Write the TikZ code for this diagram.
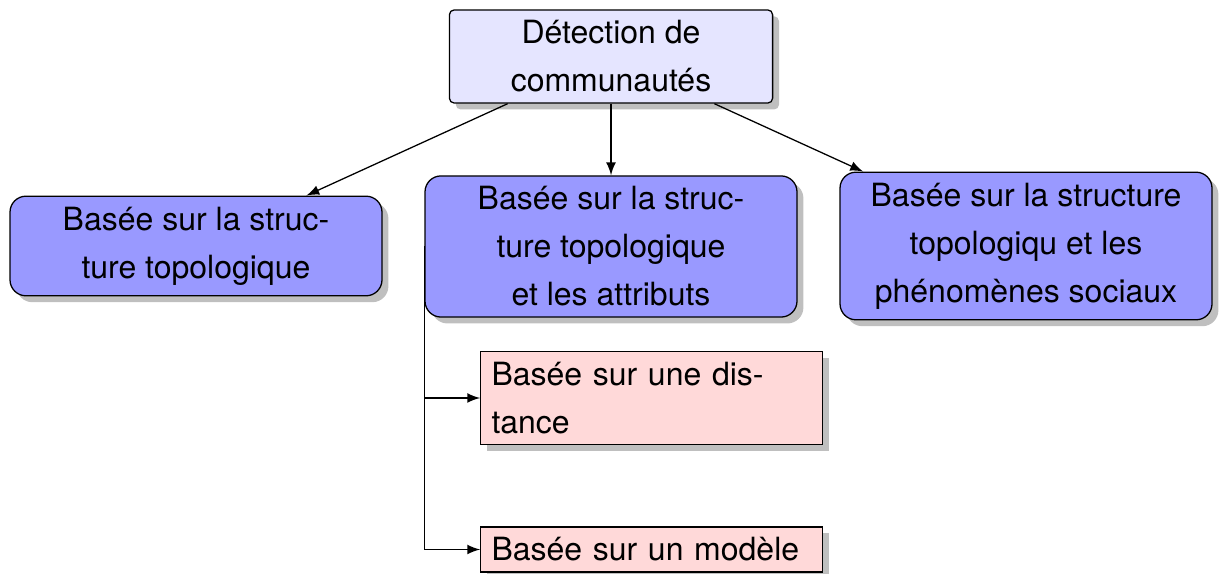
\documentclass[tikz,border=0pt]{standalone}
\usepackage{fontspec}
\setmainfont{TeX Gyre Heros}
\usetikzlibrary{shadows}

\begin{document}
\begin{tikzpicture}[x=0.3125pt,y=-0.3125pt,
    font=\fontsize{10}{15}\selectfont,
    racine/.style={draw,fill=blue!10,rounded corners=1.5pt,align=center,
      minimum width=101pt,drop shadow={shadow xshift=2pt,shadow yshift=-2pt}},
    methode/.style={draw,fill=blue!40,rounded corners=5pt,align=center,
      minimum width=116.25pt,drop shadow={shadow xshift=2pt,shadow yshift=-2pt}},
    sousmethode/.style={draw,fill=red!15,align=left,text width=100pt,
      drop shadow={shadow xshift=2pt,shadow yshift=-2pt}}]
      \useasboundingbox (0,0) rectangle (1219,574);

      \node[racine] (1) at (611,56.5) {Détection de\\communautés};
      \node[methode] (2) at (196,246) {Basée sur la struc-\\ture topologique};
      \node[methode] (3) at (611,246.5) {Basée sur la struc-\\ture topologique\\et les attributs};
      \node[methode] (4) at (1026,246) {Basée sur la structure\\topologiqu et les\\phénomènes sociaux};
      \node[sousmethode] (5) at (651.5,398) {Basée sur une dis-\\tance};
      \node[sousmethode] (6) at (651.5,549.5) {Basée sur un modèle};

      \draw[-latex] (1) -- (2);
      \draw[-latex] (1) -- (3);
      \draw[-latex] (1) -- (4);
      \draw[-latex] (3.west) |- (5.west);
      \draw[-latex] (3.west) |- (6.west);
    \end{tikzpicture}
\end{document}
